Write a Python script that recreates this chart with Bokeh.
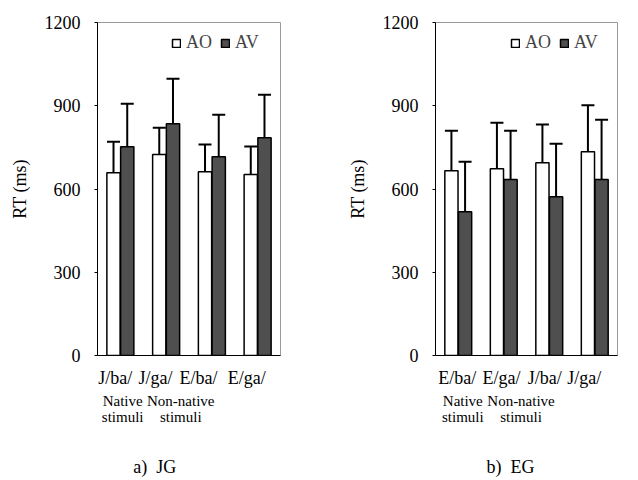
from bokeh.plotting import figure
from bokeh.models import ColumnDataSource, FixedTicker, Whisker, TeeHead, Range1d, LinearAxis
from bokeh.layouts import row
from bokeh.embed import file_html
from bokeh.resources import INLINE

FONT = "Liberation Serif"

# ---- data ----
jg_categories = ["J/ba/", "J/ga/", "E/ba/", "E/ga/"]
jg_ao = [659, 724, 662, 652]
jg_ao_err = [111, 97, 98, 101]
jg_av = [752, 835, 716, 785]
jg_av_err = [155, 162, 152, 155]

eg_categories = ["E/ba/", "E/ga/", "J/ba/", "J/ga/"]
eg_ao = [666, 673, 695, 734]
eg_ao_err = [144, 166, 137, 168]
eg_av = [518, 634, 572, 634]
eg_av_err = [180, 176, 191, 216]

y_ticks = [0, 300, 600, 900, 1200]
group_labels = ["Native\nstimuli", "Non-native\nstimuli"]
captions = ["a)\u00a0\u00a0JG", "b)\u00a0\u00a0EG"]


def plain_axis(ax, size, standoff):
    ax.axis_line_color = None
    ax.major_tick_line_color = None
    ax.minor_tick_line_color = None
    ax.major_tick_out = 0
    ax.major_tick_in = 0
    ax.minor_tick_out = 0
    ax.minor_tick_in = 0
    ax.major_label_text_font = FONT
    ax.major_label_text_font_size = size
    ax.major_label_text_color = "black"
    ax.major_label_standoff = standoff


def make_panel(cats, ao, ao_err, av, av_err, width, bl, br, caption,
               cat_pos, group_pos, cap_pos, legend_xy):
    p = figure(width=width, height=479, x_range=Range1d(0, len(cats)), y_range=Range1d(0, 1200),
               output_backend="svg", toolbar_location=None,
               min_border_left=bl, min_border_right=br, min_border_top=22, min_border_bottom=124)
    xs = [i + 0.5 for i in range(len(cats))]
    src = ColumnDataSource(dict(
        x_ao=[x - 0.15 for x in xs], x_av=[x + 0.15 for x in xs],
        ao=ao, av=av,
        ao_up=[a + e for a, e in zip(ao, ao_err)],
        av_up=[a + e for a, e in zip(av, av_err)],
    ))
    p.vbar(x="x_ao", top="ao", bottom=0, width=0.29, fill_color="white", line_color="black",
           line_width=1.5, source=src, legend_label="AO")
    p.vbar(x="x_av", top="av", bottom=0, width=0.29, fill_color="#4f4f4f", line_color="black",
           line_width=1.5, source=src, legend_label="AV")
    for base, lower, upper in (("x_ao", "ao", "ao_up"), ("x_av", "av", "av_up")):
        w = Whisker(source=src, base=base, lower=lower, upper=upper, dimension="height",
                    line_width=2, line_color="black",
                    upper_head=TeeHead(size=13, line_width=2, line_color="black"), lower_head=None)
        p.add_layout(w)

    p.xgrid.visible = False
    p.ygrid.visible = False
    p.outline_line_color = "#999999"
    p.outline_line_width = 1

    # category labels
    p.xaxis.ticker = FixedTicker(ticks=cat_pos)
    p.xaxis.major_label_overrides = {x: c for x, c in zip(cat_pos, cats)}
    plain_axis(p.xaxis[0], "18px", 12)
    p.xaxis.axis_line_color = "black"

    # group words (Native / Non-native stimuli)
    ax2 = LinearAxis(ticker=FixedTicker(ticks=group_pos),
                     major_label_overrides={x: t for x, t in zip(group_pos, group_labels)})
    plain_axis(ax2, "15px", 2)
    ax2.major_label_text_line_height = 1.0
    p.add_layout(ax2, "below")

    # panel caption
    ax3 = LinearAxis(ticker=FixedTicker(ticks=[cap_pos]),
                     major_label_overrides={cap_pos: caption})
    plain_axis(ax3, "18px", 29)
    p.add_layout(ax3, "below")

    p.yaxis.ticker = FixedTicker(ticks=y_ticks)
    p.yaxis.minor_tick_line_color = None
    p.yaxis.major_tick_in = 0
    p.yaxis.major_tick_out = 3
    p.yaxis.major_tick_line_color = "black"
    p.yaxis.major_label_standoff = 14
    p.yaxis.major_label_text_font = FONT
    p.yaxis.major_label_text_font_size = "18px"
    p.yaxis.major_label_text_color = "black"
    p.yaxis.axis_line_color = "black"
    p.yaxis.axis_label = "RT (ms)"
    p.yaxis.axis_label_text_font = FONT
    p.yaxis.axis_label_text_font_style = "normal"
    p.yaxis.axis_label_text_font_size = "18px"
    p.yaxis.axis_label_text_color = "black"
    p.yaxis.axis_label_standoff = 12

    lg = p.legend[0]
    lg.orientation = "horizontal"
    lg.location = legend_xy
    lg.border_line_color = None
    lg.background_fill_alpha = 0
    lg.label_text_font = FONT
    lg.label_text_font_size = "18px"
    lg.glyph_width = 10
    lg.glyph_height = 10
    lg.label_standoff = 5
    lg.spacing = 8
    lg.padding = 2
    lg.margin = 0
    return p


p1 = make_panel(jg_categories, jg_ao, jg_ao_err, jg_av, jg_av_err, 320, 97, 40, captions[0],
                [0.39, 1.27, 2.21, 3.26], [0.55, 1.82], 1.25, (74, 302))
p2 = make_panel(eg_categories, eg_ao, eg_ao_err, eg_av, eg_av_err, 302, 115, 5, captions[1],
                [0.48, 1.45, 2.40, 3.27], [0.60, 1.88], 1.65, (75, 302))

layout = row(p1, p2)
open("out.html", "w").write(file_html(layout, INLINE))
